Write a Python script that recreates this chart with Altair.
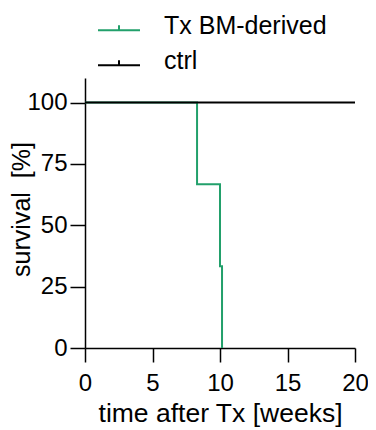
import altair as alt
import pandas as pd

groups = ["Tx BM-derived", "ctrl"]
colors = ["#22a06b", "#000000"]

tx_weeks = [0, 8.3, 10.0, 10.15]
tx_surv = [100, 66.67, 33.33, 0]

ctrl_weeks = [0, 20]
ctrl_surv = [100, 100]

y_ticks = [0, 25, 50, 75, 100]
x_ticks = [0, 5, 10, 15, 20]

tx = pd.DataFrame({"t": tx_weeks, "s": tx_surv, "g": groups[0]})
ctrl = pd.DataFrame({"t": ctrl_weeks, "s": ctrl_surv, "g": groups[1]})

FONT = "Liberation Sans"

x_enc = alt.X("t:Q", scale=alt.Scale(domain=[0, 20], nice=False),
              axis=alt.Axis(values=x_ticks, title="time after Tx [weeks]",
                            tickSize=14, labelPadding=9, titleY=73,
                            titleBaseline="alphabetic", titleX=135,
                            titleAlign="center", labelFlush=False,
                            titleFontSize=26.5))
y_enc = alt.Y("s:Q", scale=alt.Scale(domain=[0, 110], nice=False),
              axis=alt.Axis(values=y_ticks, title="survival\u00a0 [%]",
                            tickSize=15, labelPadding=3, titleAngle=270,
                            titleX=-64, titleY=131, titleAlign="center",
                            titleBaseline="middle", titleFontSize=25))
color_enc = alt.Color("g:N", scale=alt.Scale(domain=groups, range=colors),
                      legend=alt.Legend(title=None, orient="none",
                                        legendX=12, legendY=-74,
                                        symbolType="M-1,0.2L1,0.2M0,0.2L0,-0.04",
                                        symbolSize=1764, symbolStrokeWidth=2,
                                        symbolFillColor="transparent",
                                        labelOffset=23, rowPadding=-12,
                                        padding=0, labelFontSize=25,
                                        labelFont=FONT, labelColor="black",
                                        labelLimit=300))

l1 = alt.Chart(tx).mark_line(interpolate="step-after", strokeWidth=2).encode(
    x=x_enc, y=y_enc, color=color_enc)
l2 = alt.Chart(ctrl).mark_line(interpolate="step-after", strokeWidth=2).encode(
    x=x_enc, y=y_enc, color=color_enc)

chart = alt.layer(l1, l2).properties(
    width=270, height=270,
    autosize=alt.AutoSizeParams(type="none"),
    padding={"left": 77, "top": 70, "right": 13, "bottom": 80},
).configure_view(stroke=None).configure_axis(
    grid=False, domainColor="black", tickColor="black", domainWidth=1.5,
    tickWidth=1.5, labelFont=FONT, titleFont=FONT, labelFontSize=24,
    labelColor="black", titleColor="black",
    titleFontWeight="normal")

chart.save("out.html", embed_options={"renderer": "svg", "actions": False})
